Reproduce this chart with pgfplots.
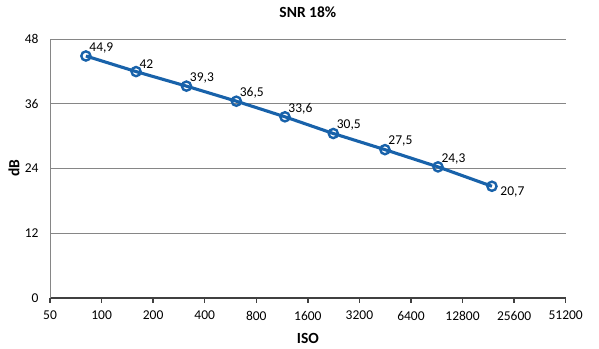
\documentclass[border=0pt]{standalone}
\usepackage{pgfplots}
\pgfplotsset{compat=1.18}
\usepackage{fontspec}
\setmainfont{Carlito}
\definecolor{serblue}{RGB}{24,98,170}
\definecolor{gridgray}{RGB}{134,134,134}
\definecolor{axdark}{RGB}{64,64,64}
\begin{document}
\begin{tikzpicture}
\begin{axis}[
  scale only axis,
  width=515.7pt, height=258.4pt,
  xmode=log, log basis x=2,
  xmin=50, xmax=51200,
  ymin=0, ymax=48,
  xtick={50,100,200,400,800,1600,3200,6400,12800,25600,51200},
  xticklabels={50,100,200,400,800,1600,3200,6400,12800,25600,51200},
  xminorticks=false,
  ytick={0,12,24,36,48},
  axis x line*=bottom, axis y line*=left,
  x axis line style={-, draw=axdark, line width=1.8pt},
  y axis line style={-, draw=gridgray, line width=0.9pt},
  ymajorgrids,
  grid style={draw=gridgray, line width=0.9pt},
  xtick style={draw=axdark, line width=1.3pt},
  ytick style={draw=none},
  tick align=outside,
  major tick length=5pt,
  /pgf/number format/assume math mode=true,
  tick label style={font=\fontsize{13.5}{16}\selectfont, text=black},
  xticklabel style={yshift=-5pt},
  yticklabel style={xshift=-3pt},
  clip=false,
]
\addplot[serblue, line width=3.1pt, mark=o, mark size=4.6pt,
  mark options={fill=white, line width=2.4pt},
  nodes near coords, point meta=explicit symbolic,
  nodes near coords style={anchor=south west, font=\fontsize{13.5}{16}\selectfont, text=black, xshift=-1pt, yshift=-1.5pt}]
  table[meta=lab] {
  x y lab
  81 44.9 {44,9}
  159 42 {42}
  313 39.3 {39,3}
  612 36.5 {36,5}
  1176 33.6 {33,6}
  2253 30.5 {30,5}
  4510 27.5 {27,5}
  9200 24.3 {24,3}
  19000 20.7 {}
  };
\addplot[draw=none, mark=none, nodes near coords, point meta=explicit symbolic,
  nodes near coords style={anchor=west, font=\fontsize{13.5}{16}\selectfont, text=black, xshift=5pt, yshift=-6pt}]
  table[meta=lab] {
  x y lab
  19000 20.7 {20,7}
  };
\node[font=\bfseries\fontsize{15.5}{18}\selectfont] at ([yshift=27pt]rel axis cs:0.5,1) {SNR 18\%};
\node[font=\bfseries\fontsize{15.5}{18}\selectfont] at ([yshift=-40.3pt]rel axis cs:0.5,0) {ISO};
\node[font=\bfseries\fontsize{15.5}{18}\selectfont, rotate=90] at ([xshift=-36pt]rel axis cs:0,0.502) {dB};
\path ([xshift=-50pt,yshift=-51.3pt]rel axis cs:0,0) rectangle ([xshift=33.3pt,yshift=39.3pt]rel axis cs:1,1);
\end{axis}
\end{tikzpicture}
\end{document}
